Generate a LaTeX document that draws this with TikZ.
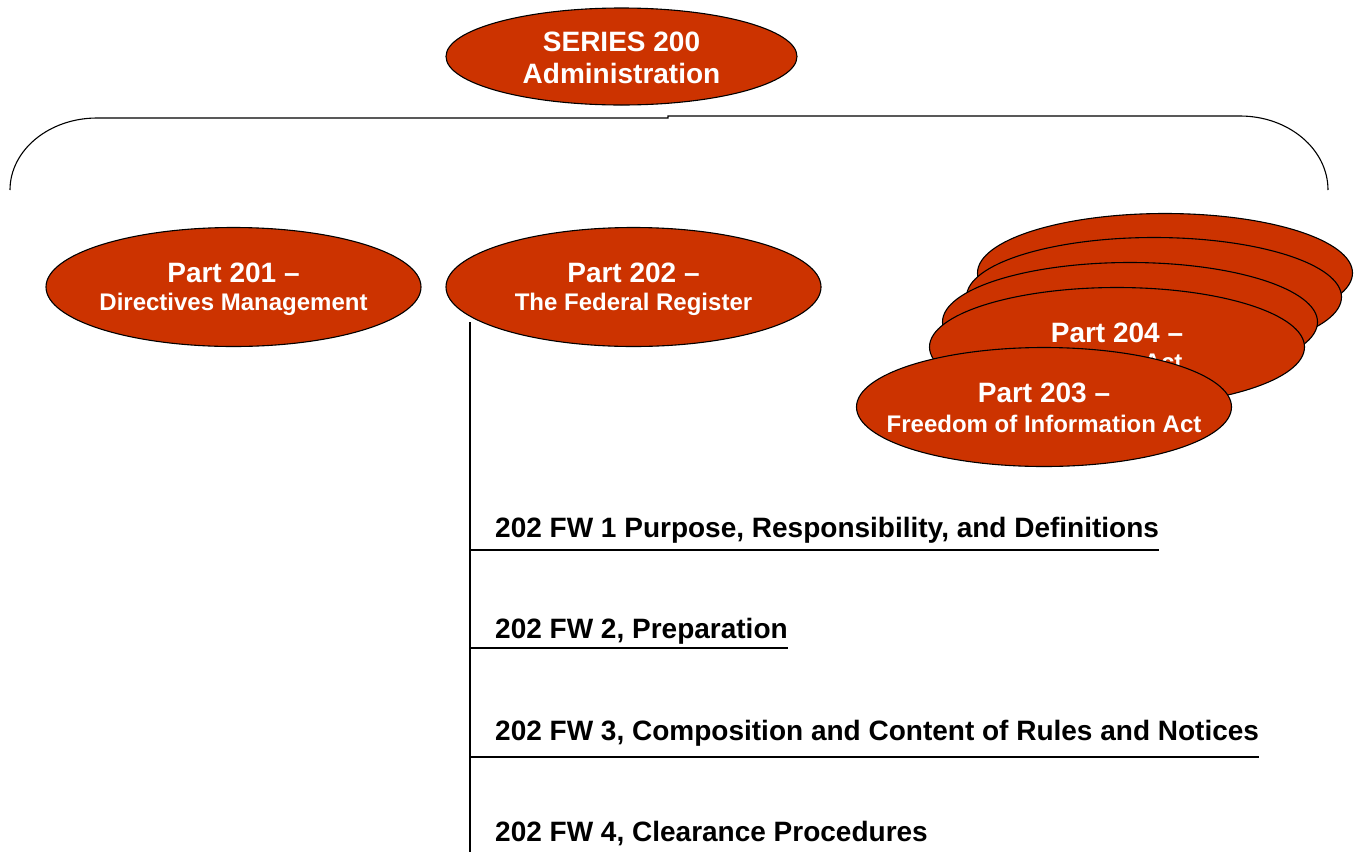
\documentclass[tikz,border=0pt]{standalone}
\usepackage{fontspec}
\setmainfont{Liberation Sans}
\usetikzlibrary{shapes.geometric}
\definecolor{partred}{RGB}{204,51,0}
\tikzset{
  part/.style={ellipse, draw=black, line width=1.1pt, fill=partred,
    inner sep=0pt, minimum width=375pt, minimum height=119pt},
  tbig/.style={anchor=base, inner sep=0pt, text=white,
    font=\fontsize{28}{30}\selectfont\bfseries},
  tsmall/.style={anchor=base, inner sep=0pt, text=white,
    font=\fontsize{24}{30}\selectfont\bfseries},
  fw/.style={anchor=west, inner sep=0pt, text=black,
    font=\fontsize{28}{30}\selectfont\bfseries},
  conn/.style={draw=black, line width=1.1pt}
}
\begin{document}
\begin{tikzpicture}[x=1pt,y=-1pt]
\useasboundingbox (0,0) rectangle (1360,852);

% top ellipse
\node[part, minimum width=351pt, minimum height=97pt] (series) at (621.5,56.5) {};
\node[tbig] (seriesa) at (621.5,51) {SERIES 200};
\node[tbig] (seriesb) at (621.5,83) {Administration};

% bracket line
\coordinate (bl) at (10,190);
\draw[conn] (bl) arc[start angle=180, end angle=90, x radius=87, y radius=-72]
  -- (668,118) -- (668,116) -- (1240,116)
  arc[start angle=90, end angle=0, x radius=88, y radius=-74] coordinate (br);

% parts 201 and 202
\node[part] (p201) at (233.5,287) {};
\node[tbig] (p201a) at (233.5,282) {Part 201 --};
\node[tsmall] (p201b) at (233.5,310.5) {Directives Management};
\node[part] (p202) at (633.5,287) {};
\node[tbig] (p202a) at (633.5,282) {Part 202 --};
\node[tsmall] (p202b) at (633.5,310.5) {The Federal Register};

% stacked parts
\node[part] (s1) at (1165,273) {};
\node[part] (s2) at (1154,297) {};
\node[part] (s3) at (1130,322) {};
\node[part] (p204) at (1117,347) {};
\node[tbig] (p204a) at (1117,342) {Part 204 --};
\node[tsmall] (p204b) at (1117,370) {Privacy Act};
\node[part] (p203) at (1044,407) {};
\node[tbig] (p203a) at (1044,402) {Part 203 --};
\node[tsmall] (p203b) at (1044,432.5) {Freedom of Information Act};

% FW items
\coordinate (trunktop) at (470,322);
\coordinate (trunkbot) at (470,852);
\draw[conn] (trunktop) -- (trunkbot);

\node[fw] (fw1) at (495,530) {202 FW 1 Purpose, Responsibility, and Definitions};
\node[fw] (fw2) at (495,631) {202 FW 2, Preparation};
\node[fw] (fw3) at (495,733) {202 FW 3, Composition and Content of Rules and Notices};
\node[fw] (fw4) at (495,834) {202 FW 4, Clearance Procedures};

\coordinate (t1) at (470,550);
\coordinate (t2) at (470,648);
\coordinate (t3) at (470,757);
\draw[conn] (t1) -- (t1 -| fw1.east);
\draw[conn] (t2) -- (t2 -| fw2.east);
\draw[conn] (t3) -- (t3 -| fw3.east);
\end{tikzpicture}
\end{document}
